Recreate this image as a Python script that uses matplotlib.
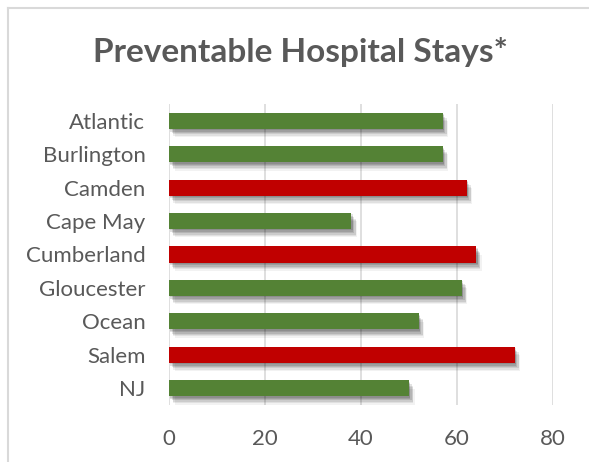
import matplotlib
matplotlib.use("Agg")
import matplotlib.pyplot as plt
import matplotlib.patheffects as pe
from matplotlib.lines import Line2D

counties = ["Atlantic", "Burlington", "Camden", "Cape May", "Cumberland",
            "Gloucester", "Ocean", "Salem", "NJ"]
stays = [57, 57, 62, 38, 64, 61, 52, 72, 50]
worse = [False, False, True, False, True, False, False, True, False]
xticks = [0, 20, 40, 60, 80]

GREEN = "#548235"
RED = "#C00000"
TXT = "#595959"
GRID = "#D9D9D9"

plt.rcParams["font.family"] = ["Lato", "DejaVu Sans"]

fig = plt.figure(figsize=(5.89, 4.62), dpi=100)
ax = fig.add_axes([169 / 589, 1 - 405 / 462, (553 - 169) / 589, (405 - 104) / 462])

colors = [RED if w else GREEN for w in worse]
bars = ax.barh(range(len(counties)), stays, height=0.48, color=colors, zorder=3)

# soft drop shadow: stack a few faint offset copies
shadow = [pe.SimplePatchShadow(offset=(dx, dy), shadow_rgbFace="#000000", alpha=a)
          for dx, dy, a in [(4, -6, 0.05), (3, -5, 0.07), (3, -4, 0.09),
                            (2, -3, 0.11), (1, -2, 0.12), (1, -1, 0.10)]]
for b in bars:
    b.set_path_effects(shadow + [pe.Normal()])

ax.set_xlim(0, 80)
ax.set_ylim(len(counties) - 0.5, -0.5)
ax.set_xticks(xticks)
ax.set_yticks(range(len(counties)))
ax.set_yticklabels(counties)
ax.grid(axis="x", color=GRID, lw=1.2, zorder=0)
for s in ax.spines.values():
    s.set_visible(False)
ax.tick_params(axis="both", length=0, labelsize=16, labelcolor=TXT)
ax.tick_params(axis="y", pad=17)
ax.tick_params(axis="x", pad=17)

fig.text(0.51, 1 - 52 / 462, "Preventable Hospital Stays*", ha="center", va="center",
         fontsize=24, fontweight="bold", color=TXT)

# chart frame (top and left edges)
fig.add_artist(Line2D([8 / 589, 1], [1 - 7.5 / 462, 1 - 7.5 / 462], color=GRID, lw=1.5))
fig.add_artist(Line2D([8 / 589, 8 / 589], [0, 1 - 7.5 / 462], color=GRID, lw=1.5))

fig.savefig("out.png", dpi=100)
